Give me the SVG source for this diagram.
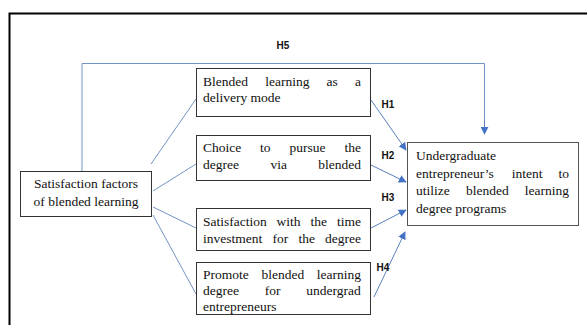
<svg xmlns="http://www.w3.org/2000/svg" width="587" height="325" viewBox="0 0 587 325">
<defs>
<marker id="ah" viewBox="0 0 10 10" refX="9" refY="5" markerWidth="8" markerHeight="8" markerUnits="userSpaceOnUse" orient="auto">
<path d="M0,0 L10,5 L0,10 Z" fill="#4472c4"/>
</marker>
<style>
.box{fill:#fff;stroke:#333;stroke-width:1}
.t{font-family:"Liberation Serif","Times New Roman",serif;font-size:13.5px;fill:#111}
.h{font-family:"Liberation Sans",Arial,sans-serif;font-size:10px;font-weight:bold;fill:#111}
.c{fill:none;stroke:#7393c4;stroke-width:1}
.a{fill:none;stroke:#5a80bf;stroke-width:1;marker-end:url(#ah)}
</style>
</defs>
<rect width="587" height="325" fill="#fff"/>
<path d="M9.5,326 V13.5 H588" fill="none" stroke="#000" stroke-width="2"/>
<g id="connectors">
<path class="c" d="M82,171 V63.5 H484.5 V126"/>
<path class="a" d="M484.5,120 V134"/>
<line class="c" x1="151" y1="164" x2="196" y2="99"/>
<line class="c" x1="153" y1="191" x2="196" y2="164"/>
<line class="c" x1="153" y1="207" x2="196" y2="228"/>
<line class="c" x1="153" y1="215" x2="196" y2="294"/>
<line class="a" x1="371" y1="100" x2="406" y2="150"/>
<line class="a" x1="371" y1="165" x2="406" y2="182"/>
<line class="a" x1="371" y1="228" x2="406" y2="210"/>
<line class="a" x1="374" y1="297" x2="405" y2="232"/>
<text class="h" x="283" y="49" text-anchor="middle">H5</text>
<text class="h" x="388" y="108" text-anchor="middle">H1</text>
<text class="h" x="388" y="159" text-anchor="middle">H2</text>
<text class="h" x="388" y="201" text-anchor="middle">H3</text>
<text class="h" x="383" y="271" text-anchor="middle">H4</text>
</g>
<g id="satisfaction-factors">
<rect class="box" x="20.5" y="171.5" width="131" height="45"/>
<text class="t" x="86" y="188" text-anchor="middle">Satisfaction factors</text>
<text class="t" x="86" y="206" text-anchor="middle">of blended learning</text>
</g>
<g id="delivery-mode">
<rect class="box" x="196.5" y="68.5" width="174" height="48"/>
<text class="t" y="86"><tspan x="203">Blended</tspan><tspan x="265.2">learning</tspan><tspan x="326.6">as</tspan><tspan x="355">a</tspan></text>
<text class="t" x="203" y="102">delivery mode</text>
</g>
<g id="choice">
<rect class="box" x="196.5" y="135.5" width="174" height="45"/>
<text class="t" y="152"><tspan x="203">Choice</tspan><tspan x="260.1">to</tspan><tspan x="289.5">pursue</tspan><tspan x="344.5">the</tspan></text>
<text class="t" y="169"><tspan x="203">degree</tspan><tspan x="270.4">via</tspan><tspan x="318.3">blended</tspan></text>
</g>
<g id="time-investment">
<rect class="box" x="196.5" y="208.5" width="174" height="42"/>
<text class="t" y="226"><tspan x="203">Satisfaction</tspan><tspan x="276.6">with</tspan><tspan x="310.5">the</tspan><tspan x="337">time</tspan></text>
<text class="t" y="243"><tspan x="203">investment</tspan><tspan x="272.5">for</tspan><tspan x="298.4">the</tspan><tspan x="325">degree</tspan></text>
</g>
<g id="promote">
<rect class="box" x="196.5" y="262.5" width="174" height="52"/>
<text class="t" y="279"><tspan x="203">Promote</tspan><tspan x="261.4">blended</tspan><tspan x="316.8">learning</tspan></text>
<text class="t" y="295"><tspan x="203">degree</tspan><tspan x="264.8">for</tspan><tspan x="306.3">undergrad</tspan></text>
<text class="t" x="203" y="311">entrepreneurs</text>
</g>
<g id="intent">
<rect class="box" x="407.5" y="142.5" width="171" height="83" style="stroke:#555"/>
<text class="t" x="416" y="160">Undergraduate</text>
<text class="t" y="177.5"><tspan x="416">entrepreneur’s</tspan><tspan x="511.7">intent</tspan><tspan x="558.5">to</tspan></text>
<text class="t" y="195"><tspan x="416">utilize</tspan><tspan x="465.9">blended</tspan><tspan x="524.8">learning</tspan></text>
<text class="t" x="416" y="212.5">degree programs</text>
</g>
</svg>
